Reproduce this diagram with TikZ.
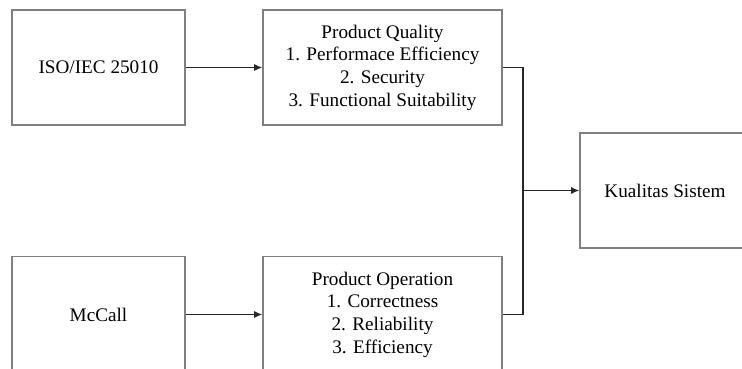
\documentclass[tikz,border=0pt]{standalone}
\usepackage{fontspec}
\setmainfont{Liberation Serif}
\usetikzlibrary{arrows.meta}
\begin{document}
\begin{tikzpicture}[x=1pt,y=1pt,
  box/.style={draw=black!50,line width=1.6pt,align=center,inner sep=0pt,
    font=\fontsize{19.2}{22.7}\selectfont},
  link/.style={black!85,line width=1.1pt}]
  \clip (0,0) rectangle (742,368);
  \node[box,minimum width=173pt,minimum height=115pt] (iso) at (98.5,300.5) {ISO/IEC 25010};
  \node[box,minimum width=239pt,minimum height=115pt] (pq) at (382.5,300.5)
    {Product Quality\\1. Performace Efficiency\\2. Security\\3. Functional Suitability};
  \node[box,minimum width=173pt,minimum height=116pt] (mc) at (98.5,53.5) {McCall};
  \node[box,minimum width=239pt,minimum height=116pt] (po) at (382.5,53.5)
    {Product Operation\\1. Correctness\\2. Reliability\\3. Efficiency};
  \node[box,minimum width=170pt,minimum height=115pt] (ks) at (665,177.5) {Kualitas Sistem};
  \coordinate (join) at (523,177.5);
  \draw[link,-{Latex[length=8pt,width=7pt]}] (iso.east) -- (pq.west);
  \draw[link,-{Latex[length=8pt,width=7pt]}] (mc.east) -- (po.west);
  \draw[link] (pq.east) -| (join);
  \draw[link] (po.east) -| (join);
  \draw[link,-{Latex[length=8pt,width=7pt]}] (join) -- (ks.west);
\end{tikzpicture}
\end{document}
